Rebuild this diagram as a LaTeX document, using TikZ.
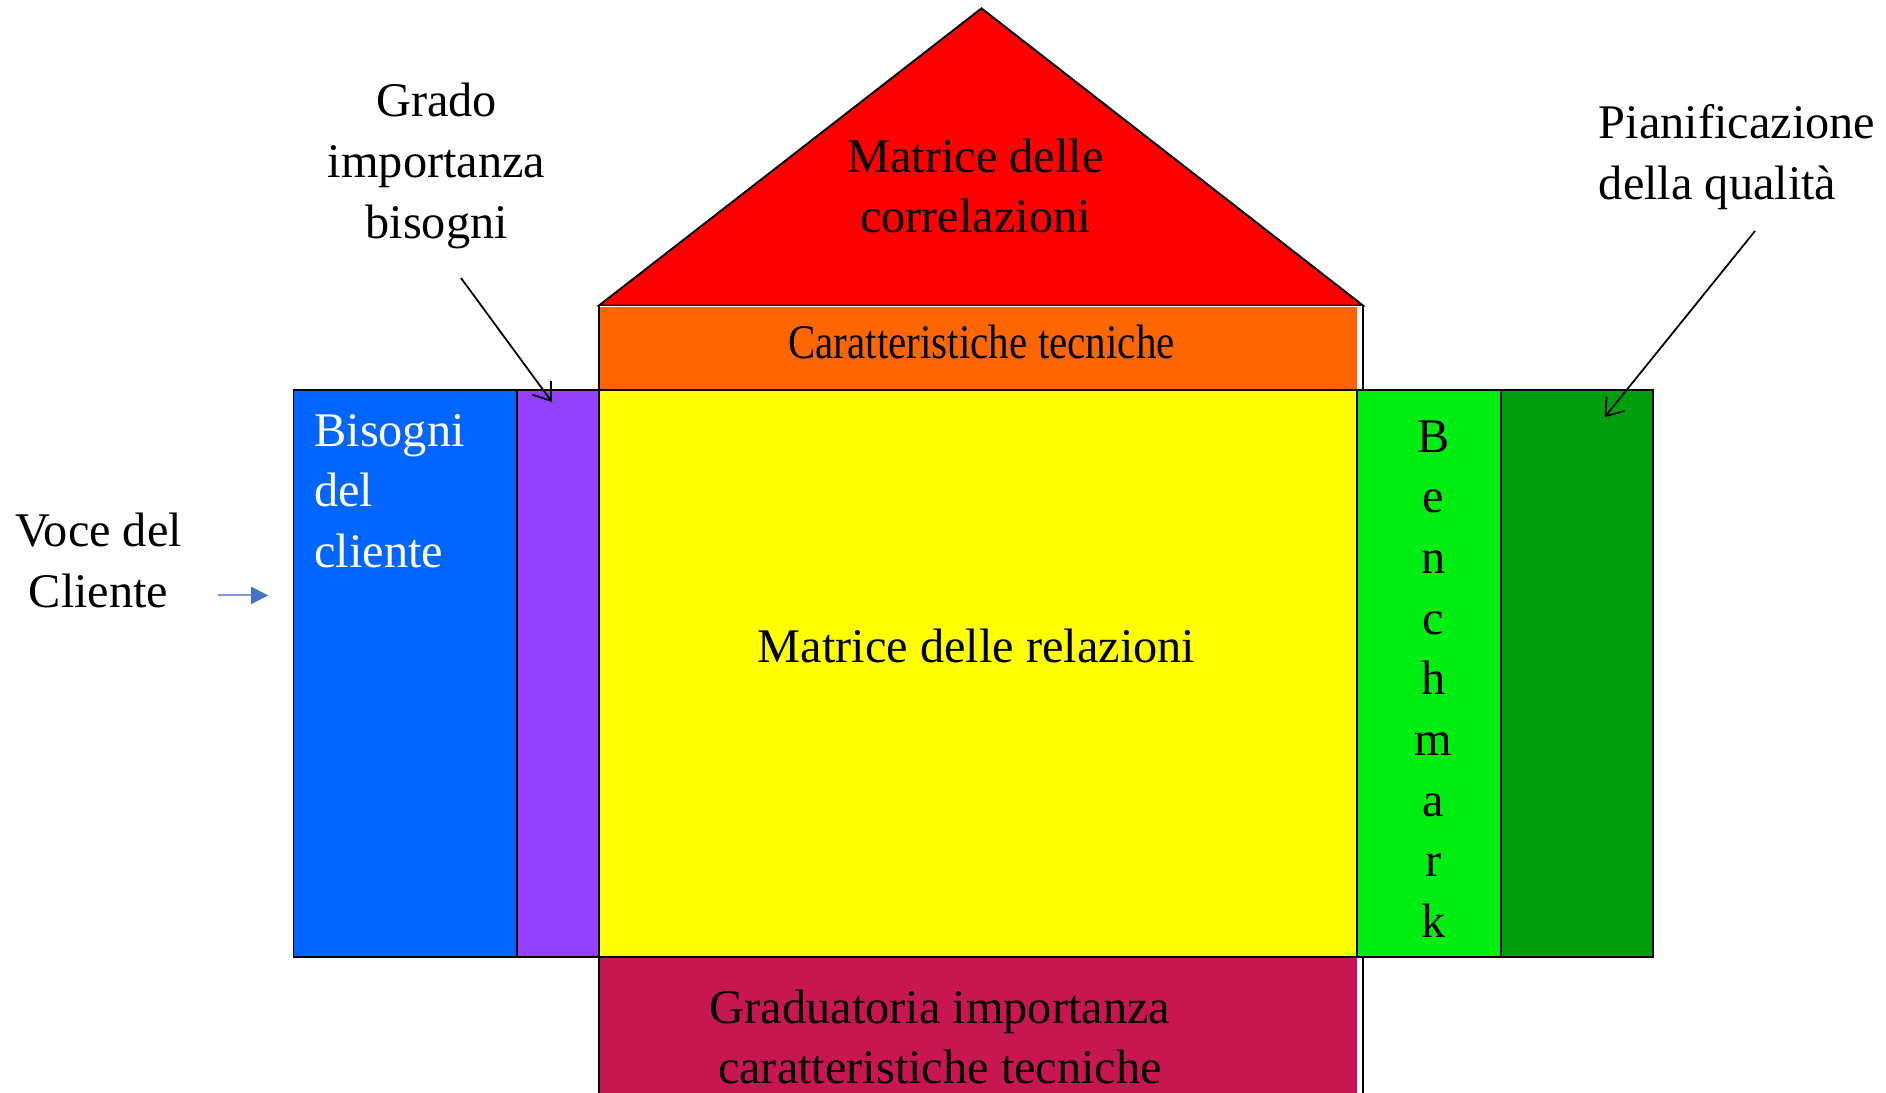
\documentclass[tikz,border=0pt]{standalone}
\usepackage{fontspec}
\setmainfont{Liberation Serif}
\usetikzlibrary{arrows.meta}
\definecolor{roofred}{HTML}{FF0000}
\definecolor{techorange}{HTML}{FF6600}
\definecolor{matrixyellow}{HTML}{FFFF00}
\definecolor{needsblue}{HTML}{0066FF}
\definecolor{weightpurple}{HTML}{9440FF}
\definecolor{benchgreen}{HTML}{00EE11}
\definecolor{plangreen}{HTML}{009F0E}
\definecolor{rankcrimson}{HTML}{C71650}
\definecolor{voceline}{HTML}{7A9BD8}
\definecolor{vocehead}{HTML}{4472C4}

\tikzset{
  block/.style={draw=black, line width=1.1pt},
  qfdtext/.style={font=\fontsize{27.5}{34.5}\selectfont, align=center, inner sep=0pt},
  pointer/.style={draw=black, line width=1pt, -{Straight Barb[length=3.2mm,width=4.6mm]}},
  voicearrow/.style={draw=voceline, line width=1.2pt, -{Triangle[length=3.4mm,width=3.4mm,color=vocehead]}}
}

\begin{document}
\begin{tikzpicture}[x=0.02cm,y=-0.02cm]
\clip (0,0) rectangle (1886,1092);
% tetto
\draw[block, fill=roofred] (599,305.5) -- (981.5,8.4) -- (1363,305.5) -- cycle;
% colonna centrale
\draw[block, fill=white] (599,305.5) rectangle (1363,1120);
\fill[techorange] (600,306.5) rectangle (1357,389.7);
\fill[rankcrimson] (600,957.4) rectangle (1357,1120);
% riga principale
\draw[block, fill=needsblue] (293.5,389.7) rectangle (517.2,957.4);
\draw[block, fill=weightpurple] (517.2,389.7) rectangle (599,957.4);
\draw[block, fill=matrixyellow] (599,389.7) rectangle (1357,957.4);
\draw[block, fill=benchgreen] (1357,389.7) rectangle (1501,957.4);
\draw[block, fill=plangreen] (1501,389.7) rectangle (1653,957.4);

\node[qfdtext] (correlazioni) at (975.5,186) {Matrice delle\\correlazioni};
\node[qfdtext] (tecniche) at (981.5,341.6) {\scalebox{0.85}[1]{Caratteristiche tecniche}};
\node[qfdtext] (relazioni) at (976.5,646) {Matrice delle relazioni};
\node[qfdtext, text=white, align=left, anchor=west] (bisogni) at (314,491) {Bisogni\\del\\cliente};
\node[qfdtext] (benchmark) at (1433.5,679) {B\\e\\n\\c\\h\\m\\a\\r\\k};
\node[qfdtext] (graduatoria) at (940,1037) {Graduatoria importanza\\caratteristiche tecniche};
\node[qfdtext] (voce) at (98.6,560.5) {Voce del\\Cliente};
\node[qfdtext] (grado) at (436.6,166) {Grado\\importanza\\bisogni};
\node[qfdtext, align=left, anchor=west] (pianificazione) at (1598.5,157.4) {Pianificazione\\della qualità};

% frecce
\coordinate (gradotail) at (461,278);
\coordinate (gradotip) at (552,402);
\coordinate (pianotail) at (1755,231);
\coordinate (pianotip) at (1604.5,417.4);
\coordinate (vocetail) at (217.7,595.4);
\coordinate (vocetip) at (268.2,595.4);
\draw[pointer] (gradotail) -- (gradotip);
\draw[pointer] (pianotail) -- (pianotip);
\draw[voicearrow] (vocetail) -- (vocetip);
\end{tikzpicture}
\end{document}
